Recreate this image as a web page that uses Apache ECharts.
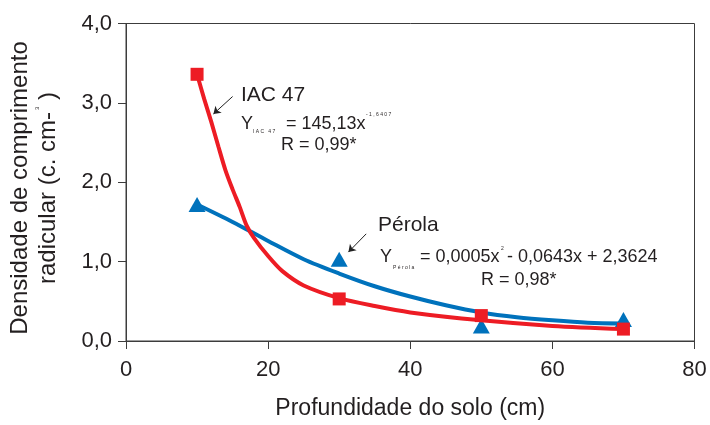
<!DOCTYPE html>
<html>
<head>
<meta charset="utf-8">
<script src="https://cdn.jsdelivr.net/npm/echarts@6/dist/echarts.min.js"></script>
<style>html,body{margin:0;padding:0;background:#fff}#c{width:710px;height:425px}</style>
</head>
<body>
<div id="c"></div>
<script>
// Observed data
const depth = [10, 30, 50, 70];
const iac47 = [3.36, 0.53, 0.32, 0.15];
const perola = [1.72, 1.03, 0.19, 0.27];
// Fitted curves
const iacFitX = [10, 11, 12, 13, 14, 15, 16, 17, 18, 20, 22, 25, 30, 35, 40, 50, 60, 70];
const iacFitY = [3.36, 3.05, 2.76, 2.45, 2.15, 1.91, 1.69, 1.45, 1.30, 1.07, 0.88, 0.70, 0.54, 0.44, 0.36, 0.26, 0.19, 0.15];
const perFitX = [10, 15, 20, 25, 30, 35, 40, 45, 50, 55, 60, 65, 70];
const perFitY = [1.72, 1.50, 1.26, 1.03, 0.85, 0.69, 0.56, 0.45, 0.36, 0.30, 0.26, 0.23, 0.22];
// Axis ticks
const xTicks = [0, 20, 40, 60, 80];
const yTicks = [0, 1, 2, 3, 4];

const pair = (xs, ys) => xs.map((x, i) => [x, ys[i]]);
const FONT = '"Liberation Sans", Arial, Helvetica, sans-serif';
const TXT = '#231f20';
const RED = '#ed1c24';
const BLUE = '#0072bc';

function t(text, x, y, size, extra) {
  return Object.assign({
    type: 'text', x: x, y: y, silent: true, z: 50,
    style: { text: text, fill: TXT, font: size + 'px ' + FONT, align: 'left', verticalAlign: 'middle' }
  }, extra || {});
}

const chart = echarts.init(document.getElementById('c'));
chart.setOption({
  animation: false,
  backgroundColor: '#fff',
  textStyle: { fontFamily: FONT },
  grid: { left: 126, right: 15.5, top: 23.5, bottom: 80.5, show: true, borderColor: '#3c3c3c', borderWidth: 1 },
  xAxis: {
    type: 'value', min: xTicks[0], max: xTicks[xTicks.length - 1], interval: xTicks[1] - xTicks[0],
    name: 'Profundidade do solo (cm)', nameLocation: 'middle', nameGap: 56,
    nameTextStyle: { fontSize: 23, color: TXT, fontFamily: FONT },
    axisLine: { lineStyle: { color: '#3c3c3c', width: 1 } },
    axisTick: { show: true, length: 8, lineStyle: { color: '#3c3c3c' } },
    axisLabel: { fontSize: 22, color: TXT, margin: 18, fontFamily: FONT },
    splitLine: { show: false }
  },
  yAxis: {
    type: 'value', min: yTicks[0], max: yTicks[yTicks.length - 1], interval: yTicks[1] - yTicks[0],
    axisLine: { show: true, lineStyle: { color: '#3c3c3c', width: 1 } },
    axisTick: { show: true, length: 8, lineStyle: { color: '#3c3c3c' } },
    axisLabel: { fontSize: 22, color: TXT, margin: 14, fontFamily: FONT,
      formatter: v => v.toFixed(1).replace('.', ',') },
    splitLine: { show: false }
  },
  series: [
    {
      type: 'line', data: pair(perFitX, perFitY), smooth: 0.3,
      showSymbol: false, symbol: 'none', lineStyle: { color: BLUE, width: 4 }, z: 2,
      markLine: {
        silent: true, symbol: ['none', 'arrow'], symbolSize: 7, animation: false,
        lineStyle: { color: '#222', width: 1, type: 'solid' }, label: { show: false },
        data: [
          [{ coord: [15.0, 3.08] }, { coord: [12.3, 2.86] }],
          [{ coord: [33.8, 1.35] }, { coord: [31.3, 1.12] }]
        ]
      }
    },
    {
      type: 'scatter', data: pair(depth, perola), symbol: 'triangle', symbolSize: [17, 15],
      itemStyle: { color: BLUE, opacity: 1 }, z: 3
    },
    {
      type: 'line', data: pair(iacFitX, iacFitY), smooth: 0.3,
      showSymbol: false, symbol: 'none', lineStyle: { color: RED, width: 4 }, z: 4
    },
    {
      type: 'scatter', data: pair(depth, iac47), symbol: 'rect', symbolSize: 13,
      itemStyle: { color: RED, opacity: 1 }, z: 5
    }
  ],
  graphic: [
    {
      type: 'text', x: 34, y: 188, rotation: Math.PI / 2, silent: true,
      style: {
        text: 'Densidade de comprimento\nradicular (c. cm-{s|3} )',
        fill: TXT, font: '24px ' + FONT, align: 'center', verticalAlign: 'middle', lineHeight: 28,
        rich: { s: { fontSize: 6, fill: TXT, verticalAlign: 'top', lineHeight: 28, padding: [0, 0, 10, 2] } }
      }
    },
    t('IAC 47', 241, 95, 21),
    t('Y', 241, 124.5, 18),
    t('I A C   4 7', 253, 132, 5),
    t('= 145,13x', 286, 124.5, 18),
    t('- 1 , 6 4 0 7', 366, 115, 5),
    t('R = 0,99*', 281, 145, 18),
    t('Pérola', 378, 225.5, 21),
    t('Y', 380, 257.5, 18),
    t('P é r o l a', 393, 268, 5),
    t('= 0,0005x', 420, 257.5, 18),
    t('2', 501, 249, 5),
    t('- 0,0643x + 2,3624', 507, 257.5, 18),
    t('R = 0,98*', 481, 280.5, 18)
  ]
});
</script>
</body>
</html>
